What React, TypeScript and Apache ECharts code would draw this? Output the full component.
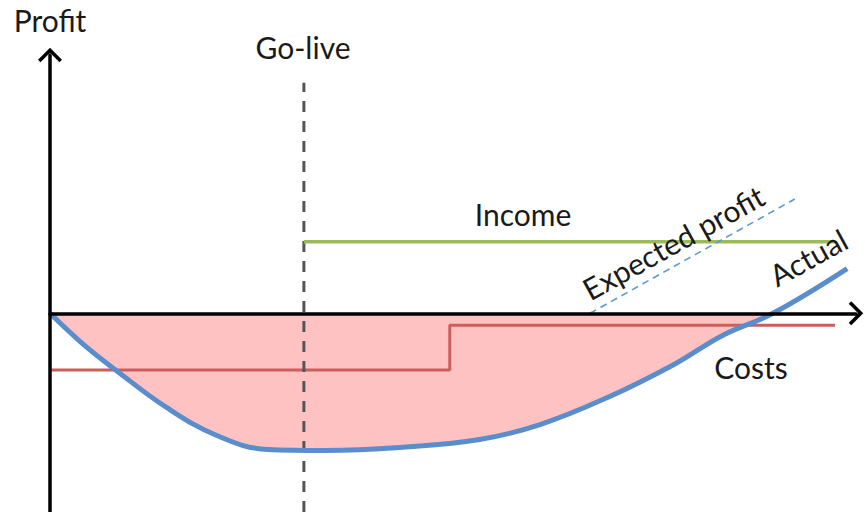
import React, { useEffect, useRef } from "react";
import * as echarts from "echarts";

// Time axis (arbitrary units 0..100) and profit axis (arbitrary units)
const actualX = [0, 4.1, 8.3, 14.5, 20.7, 27.0, 34.0, 43.4, 53.3, 60.8, 69.1, 77.3, 83.5, 89.7, 98.9];
const actualY = [0, -1.55, -2.9, -4.75, -6.15, -6.85, -6.9, -6.75, -6.35, -5.6, -4.25, -2.6, -1.1, 0, 2.25];

const costsX = [0, 49.6, 49.6, 97.4];
const costsY = [-2.85, -2.85, -0.6, -0.6];

const incomeX = [31.5, 97.4];
const incomeY = [3.6, 3.6];

const expectedX = [67, 92.4];
const expectedY = [0, 5.75];

const goLiveX = [31.5, 31.5];
const goLiveY = [-10, 11.6];

const labels = ["Profit", "Go-live", "Income", "Costs", "Expected profit", "Actual"];

const zip = (xs: number[], ys: number[]) => xs.map((x, i) => [x, ys[i]]);

const ARROW = "path://M12,0 L24,12 L21.5,14.5 L12,5 L2.5,14.5 L0,12 Z";

export default function App() {
  const ref = useRef<HTMLDivElement>(null);
  useEffect(() => {
    if (!ref.current) return;
    const chart = echarts.init(ref.current, null, { renderer: "svg" });
    const actual = zip(actualX, actualY);
    const fill = actual.filter((p) => p[1] <= 0);
    const font = "Lato";
    const txt = (text: string, x: number, y: number, rot = 0) => ({
      type: "text",
      x,
      y,
      rotation: (rot * Math.PI) / 180,
      z: 100,
      style: {
        text,
        fill: "#1a1a1a",
        font: `30px ${font}`,
        align: "center",
        verticalAlign: "middle",
      },
    });
    chart.setOption({
      animation: false,
      backgroundColor: "#ffffff",
      grid: { left: 50, top: 55, width: 806, height: 460 },
      xAxis: {
        type: "value",
        min: 0,
        max: 100,
        z: 10,
        axisLine: {
          show: true,
          onZero: true,
          symbol: ["none", ARROW],
          symbolSize: [24, 14.5],
          lineStyle: { color: "#000", width: 3.5 },
        },
        axisTick: { show: false },
        axisLabel: { show: false },
        splitLine: { show: false },
      },
      yAxis: {
        type: "value",
        min: -10,
        max: 13,
        z: 10,
        axisLine: {
          show: true,
          onZero: true,
          symbol: ["none", ARROW],
          symbolSize: [24, 14.5],
          lineStyle: { color: "#000", width: 3.5 },
        },
        axisTick: { show: false },
        axisLabel: { show: false },
        splitLine: { show: false },
      },
      series: [
        {
          name: "fill",
          type: "line",
          data: fill,
          smooth: 0.4,
          symbol: "none",
          lineStyle: { width: 0 },
          areaStyle: { color: "#FFC2C2", opacity: 1, origin: 0 },
          z: 1,
        },
        {
          name: "Costs",
          type: "line",
          data: zip(costsX, costsY),
          symbol: "none",
          lineStyle: { color: "#CC5F5C", width: 3 },
          z: 2,
        },
        {
          name: "Go-live",
          type: "line",
          data: zip(goLiveX, goLiveY),
          symbol: "none",
          lineStyle: { color: "#555", width: 3, type: [11, 9] },
          z: 3,
        },
        {
          name: "Income",
          type: "line",
          data: zip(incomeX, incomeY),
          symbol: "none",
          lineStyle: { color: "#9BBB59", width: 3.5 },
          z: 4,
        },
        {
          name: "Expected profit",
          type: "line",
          data: zip(expectedX, expectedY),
          symbol: "none",
          lineStyle: { color: "#5B9BD5", width: 1.6, type: [7, 5] },
          z: 5,
        },
        {
          name: "Actual",
          type: "line",
          data: actual,
          smooth: 0.4,
          symbol: "none",
          lineStyle: { color: "#5A8DCB", width: 5 },
          z: 6,
        },
      ],
      graphic: [
        txt(labels[0], 50, 20),
        txt(labels[1], 303, 47),
        txt(labels[2], 523, 214),
        txt(labels[3], 751, 367),
        txt(labels[4], 673, 242, 29),
        txt(labels[5], 808, 257, 29),
      ],
    });
    return () => chart.dispose();
  }, []);
  return (
    <div
      ref={ref}
      style={{ position: "fixed", left: 0, top: 0, width: 865, height: 512 }}
    />
  );
}
